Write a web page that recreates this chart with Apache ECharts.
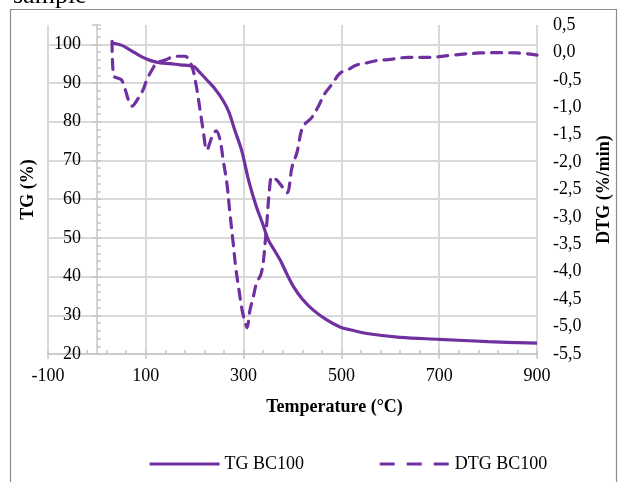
<!DOCTYPE html>
<html>
<head>
<meta charset="utf-8">
<script src="https://cdn.jsdelivr.net/npm/echarts@6/dist/echarts.min.js"></script>
<style>
html,body{margin:0;padding:0;background:#fff;}
#chart{width:619px;height:482px;}
</style>
</head>
<body>
<div id="chart"></div>
<script>
// ---- data ----
const tgTemperature = [30,50,70,90,110,130,150,170,190,200,210,225,240,258,270,282,296,310,325,340,350,362,375,388,402,420,442,470,497,520,552,620,700,800,900];
const tgValues = [100.4,99.8,98.4,96.9,95.8,95.2,95.0,94.7,94.5,94.1,92.8,90.8,88.7,85.5,82.5,77.8,72.6,65.0,58.5,53.3,49.6,47.0,44.2,40.8,37.4,34.2,31.4,28.8,27.0,26.2,25.3,24.3,23.8,23.2,22.8];

const dtgTemperature = [31,34,50,58,65,72,80,94,102,112,123,140,160,180,194,203,211,217,225,235,244,252,258,266,272,278,284,290,297,303,307,313,320,327,335,340,344,348,352,358,368,379,389,399,409,421,440,453,466,480,497,514,531,552,572,596,637,678,726,783,824,859,900];
const dtgValues = [0.2,-0.42,-0.5,-0.68,-0.88,-0.98,-0.9,-0.69,-0.5,-0.33,-0.19,-0.14,-0.07,-0.07,-0.25,-0.6,-1.05,-1.4,-1.78,-1.55,-1.43,-1.6,-1.95,-2.4,-2.93,-3.42,-3.93,-4.3,-4.7,-4.92,-5.02,-4.7,-4.45,-4.19,-4.06,-3.84,-3.48,-3.05,-2.6,-2.27,-2.33,-2.45,-2.56,-2.09,-1.83,-1.36,-1.18,-0.98,-0.75,-0.59,-0.38,-0.31,-0.23,-0.19,-0.15,-0.13,-0.09,-0.09,-0.05,-0.01,-0.005,-0.01,-0.05];

const seriesNames = ['TG BC100', 'DTG BC100'];
const xTicks = {min: -100, max: 900, step: 200, minorStep: 40};
const tgTicks = {min: 20, max: 105, step: 10, minorStep: 2};
const dtgTicks = {min: -5.5, max: 0.5, step: 0.5};
const axisTitles = {x: 'Temperature (°C)', left: 'TG (%)', right: 'DTG (%/min)'};
const headerText = 'sample';

// ---- chart ----
const FONT = 'Liberation Serif';
const purple = '#7030a0';
const gridColor = '#d9d9d9';
const axisColor = '#c6c6c6';

// layout: the TG axis crosses the temperature axis at 0 °C (as in the reference)
const W = 619, H = 482;
const gridLeft = 48, gridRight = 82, gridTop = 25, gridBottom = 128;
const plotWidth = W - gridLeft - gridRight;
const zeroOffset = -plotWidth * (0 - xTicks.min) / (xTicks.max - xTicks.min);

const tgData = tgTemperature.map((t, i) => [t, tgValues[i]]);
const dtgData = dtgTemperature.map((t, i) => [t, dtgValues[i]]);

const chart = echarts.init(document.getElementById('chart'), null, {renderer: 'canvas'});
chart.setOption({
  animation: false,
  backgroundColor: '#fff',
  textStyle: {fontFamily: FONT},
  graphic: [
    {type: 'rect', z: -10, silent: true,
     shape: {x: 10.5, y: 9.5, width: 606, height: 520},
     style: {fill: 'none', stroke: '#8c8c8c', lineWidth: 1.2}},
    {type: 'text', silent: true, x: 13, y: -4,
     style: {text: headerText, font: '26px "Liberation Serif"', fill: '#000', verticalAlign: 'middle', align: 'left'}}
  ],
  grid: {left: gridLeft, right: gridRight, top: gridTop, bottom: gridBottom, outerBoundsMode: 'none'},
  legend: {
    left: 143, top: 450, itemWidth: 70, itemHeight: 14, itemGap: 74,
    itemStyle: {opacity: 0, borderWidth: 0},
    textStyle: {fontFamily: FONT, fontSize: 18, color: '#000'},
    data: [
      {name: seriesNames[0], lineStyle: {width: 3.2, color: purple}},
      {name: seriesNames[1], lineStyle: {width: 3.2, color: purple, type: [15, 12], cap: 'butt'}}
    ]
  },
  xAxis: [
    {
      type: 'value', position: 'bottom', min: xTicks.min, max: xTicks.max, interval: xTicks.step,
      name: axisTitles.x, nameLocation: 'middle', nameGap: 44,
      nameTextStyle: {fontFamily: FONT, fontSize: 18, fontWeight: 'bold', color: '#000', padding: [0, 0, 0, 84]},
      axisLine: {show: true, onZero: false, lineStyle: {color: axisColor, width: 1.5}},
      axisTick: {show: true, inside: false, length: 5, lineStyle: {color: axisColor, width: 1.5}},
      axisLabel: {fontFamily: FONT, fontSize: 18, color: '#000', margin: 13},
      splitLine: {show: true, lineStyle: {color: gridColor, width: 2}}
    },
    {
      type: 'value', position: 'bottom', min: xTicks.min, max: xTicks.max, interval: xTicks.minorStep,
      axisLine: {show: false, onZero: false},
      axisTick: {show: true, inside: true, length: 4, lineStyle: {color: axisColor, width: 1.5}},
      axisLabel: {show: false},
      splitLine: {show: false}
    }
  ],
  yAxis: [
    {
      type: 'value', position: 'left', offset: zeroOffset,
      min: tgTicks.min, max: tgTicks.max, interval: tgTicks.step,
      name: axisTitles.left, nameLocation: 'middle', nameGap: 60,
      nameTextStyle: {fontFamily: FONT, fontSize: 18, fontWeight: 'bold', color: '#000'},
      axisLine: {show: true, onZero: false, lineStyle: {color: axisColor, width: 1.5}},
      axisTick: {show: true, length: 5, lineStyle: {color: axisColor, width: 1.5}},
      axisLabel: {fontFamily: FONT, fontSize: 18, color: '#000', margin: 16,
                  formatter: v => (v > 100 ? '' : String(v))},
      splitLine: {show: true, showMaxLine: false, lineStyle: {color: gridColor, width: 2}}
    },
    {
      type: 'value', position: 'right', min: dtgTicks.min, max: dtgTicks.max, interval: dtgTicks.step,
      name: axisTitles.right, nameLocation: 'middle', nameGap: 58,
      nameTextStyle: {fontFamily: FONT, fontSize: 18, fontWeight: 'bold', color: '#000'},
      axisLine: {show: false, onZero: false},
      axisTick: {show: false},
      axisLabel: {fontFamily: FONT, fontSize: 18, color: '#000', margin: 16,
                  formatter: v => Number(v).toFixed(1).replace('.', ',')},
      splitLine: {show: false}
    },
    {
      type: 'value', position: 'left', offset: zeroOffset,
      min: tgTicks.min, max: tgTicks.max, interval: tgTicks.minorStep,
      axisLine: {show: false, onZero: false},
      axisTick: {show: true, inside: true, length: 4, lineStyle: {color: axisColor, width: 1.5}},
      axisLabel: {show: false},
      splitLine: {show: false}
    }
  ],
  series: [
    {
      name: seriesNames[0], type: 'line', xAxisIndex: 0, yAxisIndex: 0,
      data: tgData, showSymbol: false, symbol: 'none', smooth: 0.35,
      itemStyle: {color: purple},
      lineStyle: {color: purple, width: 3.2}
    },
    {
      name: seriesNames[1], type: 'line', xAxisIndex: 0, yAxisIndex: 1,
      data: dtgData, showSymbol: false, symbol: 'none', smooth: 0.35,
      itemStyle: {color: purple},
      lineStyle: {color: purple, width: 3.2, type: [10, 8], cap: 'round'}
    }
  ]
});
</script>
</body>
</html>
